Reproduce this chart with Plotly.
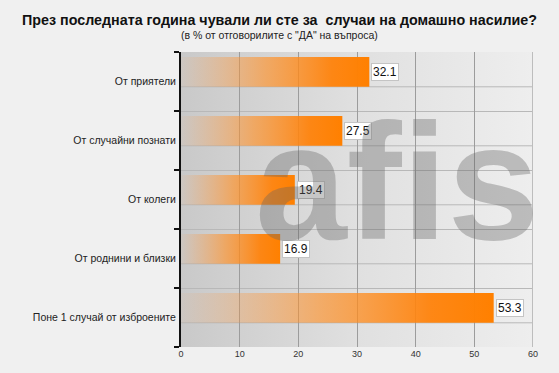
import base64
import plotly.graph_objects as go

categories = ["От приятели", "От случайни познати", "От колеги", "От роднини и близки", "Поне 1 случай от изброените"]
values = [32.1, 27.5, 19.4, 16.9, 53.3]
x_ticks = [0, 10, 20, 30, 40, 50, 60]
title = "През последната година чували ли сте за  случаи на домашно насилие?"
subtitle = "(в % от отговорилите с \"ДА\" на въпроса)"

FONT = "Liberation Sans, Arial, sans-serif"
BAR_TOP = 0.415   # offset above category center
BAR_BOT = 0.09    # offset below category center

fig = go.Figure()

# bars as gradient-filled rectangles
for i, (cat, v) in enumerate(zip(categories, values)):
    fig.add_trace(go.Scatter(
        x=[0, v, v, 0, 0],
        y=[i - BAR_TOP, i - BAR_TOP, i + BAR_BOT, i + BAR_BOT, i - BAR_TOP],
        mode="lines", line=dict(width=0), fill="toself",
        fillgradient=dict(type="horizontal",
                          colorscale=[[0, "rgba(255,150,60,0.05)"],
                                      [0.45, "rgba(255,145,40,0.65)"],
                                      [0.8, "rgba(255,130,10,0.95)"],
                                      [1, "rgba(255,128,0,1)"]]),
        hoverinfo="skip", showlegend=False, name=cat))

# plot-area background gradient (image below grid)
svg = ('<svg xmlns="http://www.w3.org/2000/svg" width="200" height="100" preserveAspectRatio="none">'
       '<defs><linearGradient id="g" x1="0" x2="1" y1="0" y2="0">'
       '<stop offset="0" stop-color="#c9c9c9"/><stop offset="0.5" stop-color="#e0e0e0"/>'
       '<stop offset="1" stop-color="#eeeeee"/></linearGradient></defs>'
       '<rect width="200" height="100" fill="url(#g)"/></svg>')
uri = "data:image/svg+xml;base64," + base64.b64encode(svg.encode()).decode()
fig.add_layout_image(dict(source=uri, xref="paper", yref="paper", x=0, y=1,
                          sizex=1, sizey=1, sizing="stretch", layer="below",
                          xanchor="left", yanchor="top"))

# extra horizontal gridlines at bar bottoms
for i in range(len(categories)):
    fig.add_shape(type="line", xref="paper", yref="y", x0=0, x1=1,
                  y0=i + BAR_BOT, y1=i + BAR_BOT, layer="below",
                  line=dict(color="#b8b8b8", width=1))

# value labels
for i, v in enumerate(values):
    fig.add_annotation(x=v, y=i - (BAR_TOP - BAR_BOT) / 2, text=f"{v:.1f}",
                       xanchor="left", xshift=2, showarrow=False,
                       bgcolor="white", bordercolor="#c4c4c4", borderwidth=1, borderpad=1,
                       font=dict(family=FONT, size=12, color="#111"))

# watermark
fig.add_annotation(xref="paper", yref="paper", x=0.205, y=0.56, xanchor="left", yanchor="middle",
                   text="<b>afis</b>", showarrow=False,
                   font=dict(family=FONT, size=165, color="rgba(100,100,100,0.36)"))

# titles
fig.add_annotation(xref="paper", yref="paper", x=0.28, y=1, xanchor="center", yanchor="top",
                   text=f"<b>{title}</b>", showarrow=False, yshift=42,
                   font=dict(family=FONT, size=14.3, color="#111"))
fig.add_annotation(xref="paper", yref="paper", x=0.28, y=1, xanchor="center", yanchor="top",
                   text=subtitle, showarrow=False, yshift=25,
                   font=dict(family=FONT, size=10.5, color="#222"))

n = len(categories)
fig.update_layout(
    width=559, height=373,
    margin=dict(l=181, r=26, t=52, b=26, autoexpand=False),
    paper_bgcolor="#f0f0f0", plot_bgcolor="rgba(0,0,0,0)",
    showlegend=False,
    xaxis=dict(range=[0, 60], tickvals=x_ticks, showgrid=True, gridcolor="#9c9c9c", gridwidth=1,
               zeroline=False, showline=False, ticks="", ticklen=0, automargin=False,
               tickfont=dict(family=FONT, size=9, color="#333")),
    yaxis=dict(range=[n - 0.5, -0.5], tickvals=list(range(n)), ticktext=categories,
               showgrid=False, zeroline=False, ticks="", ticklabelstandoff=1, automargin=False,
               showline=True, linecolor="#111", linewidth=2,
               minor=dict(tickmode="array", tickvals=[k - 0.5 for k in range(n + 1)],
                          ticks="outside", ticklen=5, tickcolor="#111", tickwidth=2,
                          showgrid=True, gridcolor="#b8b8b8", gridwidth=1),
               tickfont=dict(family=FONT, size=10.5, color="#222")),
)
fig.add_shape(type="line", xref="x", yref="paper", x0=60, x1=60, y0=0, y1=1,
              line=dict(color="#bdbdbd", width=2))

fig.write_html("out.html", config={"displayModeBar": False, "staticPlot": True},
               post_script="document.body.style.margin='0';document.body.style.background='#f0f0f0';"
                           "document.body.style.overflow='hidden';")
